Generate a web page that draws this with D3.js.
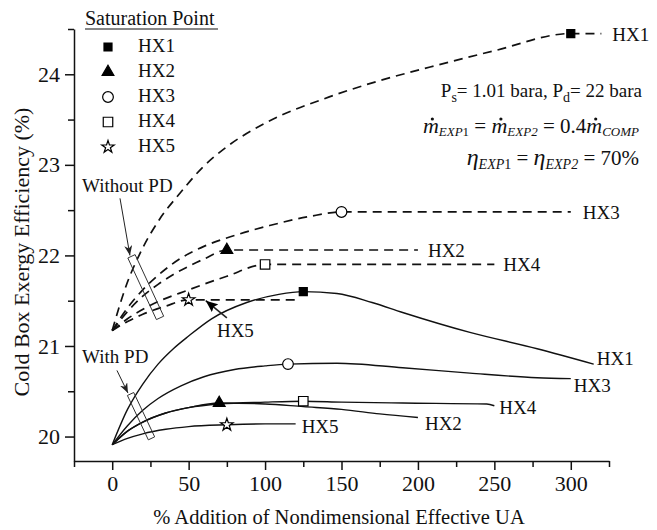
<!DOCTYPE html>
<html><head><meta charset="utf-8">
<script src="https://cdn.jsdelivr.net/npm/d3@7"></script>
<style>
body{margin:0;background:#fff;}
svg{display:block;}
svg text{font-family:"Liberation Serif","Times New Roman","DejaVu Serif",serif;}
</style></head><body>
<svg id="chart" width="657" height="530" font-family="Liberation Serif, Times New Roman, DejaVu Serif, serif"></svg>
<script>
// ---- data -----------------------------------------------------------
const seriesNames = ["HX1", "HX2", "HX3", "HX4", "HX5"];
const xTickValues = [0, 50, 100, 150, 200, 250, 300];
const yTickValues = [20, 21, 22, 23, 24];

// Without pressure drop (dashed): [% added UA, efficiency %]
const noPD_HX1 = [[0,21.17],[9,21.66],[19,22.05],[31,22.4],[44,22.68],[59,22.97],[75,23.2],[100,23.46],[142,23.75],[175,23.93],[208,24.08],[250,24.26],[300,24.45],[320,24.45]];
const noPD_HX2 = [[0,21.17],[10,21.38],[20,21.55],[30,21.68],[40,21.79],[50,21.88],[60,21.96],[75,22.06],[200,22.06]];
const noPD_HX3 = [[0,21.17],[10,21.42],[20,21.62],[30,21.78],[45,21.97],[60,22.1],[80,22.22],[103,22.33],[129,22.43],[150,22.48],[300,22.48]];
const noPD_HX4 = [[0,21.17],[10,21.3],[25,21.45],[50,21.62],[75,21.77],[100,21.9],[250,21.9]];
const noPD_HX5 = [[0,21.17],[10,21.27],[20,21.35],[35,21.44],[50,21.51],[120,21.51]];

// With pressure drop (solid)
const withPD_HX1 = [[0,19.91],[10,20.3],[20,20.58],[30,20.8],[40,20.97],[50,21.11],[65,21.3],[88,21.48],[109,21.57],[125,21.6],[147,21.58],[170,21.48],[190,21.37],[234,21.15],[278,20.97],[315,20.8]];
const withPD_HX2 = [[0,19.91],[10,20.06],[20,20.16],[35,20.26],[50,20.32],[70,20.37],[100,20.36],[125,20.33],[150,20.3],[175,20.25],[200,20.21]];
const withPD_HX3 = [[0,19.91],[10,20.12],[20,20.29],[30,20.42],[45,20.56],[60,20.66],[80,20.74],[100,20.78],[115,20.8],[147,20.81],[190,20.76],[234,20.7],[278,20.65],[300,20.64]];
const withPD_HX4 = [[0,19.91],[10,20.06],[20,20.16],[35,20.26],[50,20.32],[70,20.36],[100,20.38],[125,20.39],[150,20.38],[190,20.37],[245,20.36],[250,20.34]];
const withPD_HX5 = [[0,19.91],[10,19.98],[20,20.03],[35,20.08],[50,20.11],[75,20.13],[100,20.14],[120,20.14]];

// Saturation points, HX1..HX5
const satNoPD = [[300,24.45],[75,22.06],[150,22.48],[100,21.9],[50,21.51]];
const satWithPD = [[125,21.6],[70,20.37],[115,20.8],[125,20.39],[75,20.13]];

// ---- setup ----------------------------------------------------------
const SERIF = "Liberation Serif, Times New Roman, DejaVu Serif, serif";
const svg = d3.select("#chart");
const x = d3.scaleLinear().domain([-25, 325]).range([74, 609]);
const y = d3.scaleLinear().domain([19.73, 24.5]).range([461, 29]);
const FONT = 22;

const defs = svg.append("defs");
defs.append("marker").attr("id", "thinArrow")
  .attr("markerUnits", "userSpaceOnUse").attr("markerWidth", 12).attr("markerHeight", 10)
  .attr("refX", 10).attr("refY", 4).attr("orient", "auto")
  .append("path").attr("d", "M0,0 L10,4 L0,8 L3,4 Z").attr("fill", "#222");
defs.append("marker").attr("id", "boldArrow")
  .attr("markerUnits", "userSpaceOnUse").attr("markerWidth", 14).attr("markerHeight", 10)
  .attr("refX", 12).attr("refY", 5).attr("orient", "auto")
  .append("path").attr("d", "M0,0 L12,5 L0,10 L2,5 Z").attr("fill", "#000");

// ---- axes -----------------------------------------------------------
const minorX = d3.range(-25, 326, 25).filter(v => !xTickValues.includes(v));
const minorY = d3.range(20.5, 24.51, 0.5).filter(v => !yTickValues.includes(v));

svg.append("g").attr("transform", `translate(0,${y.range()[0]})`)
  .call(d3.axisBottom(x).tickValues(xTickValues).tickSize(9).tickSizeOuter(0).tickPadding(5).tickFormat(d3.format("d")));
svg.append("g").attr("transform", `translate(0,${y.range()[0]})`)
  .call(d3.axisBottom(x).tickValues(minorX).tickSize(6).tickSizeOuter(0).tickFormat(""))
  .select(".domain").remove();
svg.append("g").attr("transform", `translate(${x.range()[0]},0)`)
  .call(d3.axisLeft(y).tickValues(yTickValues).tickSize(9).tickSizeOuter(0).tickPadding(5).tickFormat(d3.format("d")));
svg.append("g").attr("transform", `translate(${x.range()[0]},0)`)
  .call(d3.axisLeft(y).tickValues(minorY).tickSize(6).tickSizeOuter(0).tickFormat(""))
  .select(".domain").remove();

svg.selectAll("g").attr("font-family", SERIF);
svg.selectAll(".tick text").attr("font-size", FONT).attr("fill", "#111");
svg.selectAll(".domain, .tick line").attr("stroke", "#111").attr("stroke-width", 1.5);

svg.append("text").attr("x", 339).attr("y", 524)
  .attr("text-anchor", "middle").attr("font-size", 20.5).attr("fill", "#111")
  .text("% Addition of Nondimensional Effective UA");
svg.append("text").attr("transform", "translate(29,252) rotate(-90)")
  .attr("text-anchor", "middle").attr("font-size", 22).attr("fill", "#111")
  .text("Cold Box Exergy Efficiency (%)");

// ---- curves ---------------------------------------------------------
const line = d3.line().x(d => x(d[0])).y(d => y(d[1])).curve(d3.curveMonotoneX);
const noPD = [noPD_HX1, noPD_HX2, noPD_HX3, noPD_HX4, noPD_HX5];
const withPD = [withPD_HX1, withPD_HX2, withPD_HX3, withPD_HX4, withPD_HX5];

svg.append("g").selectAll("path").data(noPD).join("path")
  .attr("d", line).attr("fill", "none").attr("stroke", "#111")
  .attr("stroke-width", 1.7).attr("stroke-dasharray", "9,6");
svg.append("g").selectAll("path").data(withPD).join("path")
  .attr("d", line).attr("fill", "none").attr("stroke", "#111")
  .attr("stroke-width", 1.4);

// ---- saturation markers ---------------------------------------------
const symbolSpec = [
  {type: d3.symbolSquare, size: 64, fill: "#000"},
  {type: d3.symbolTriangle, size: 60, fill: "#000"},
  {type: d3.symbolCircle, size: 90, fill: "#fff"},
  {type: d3.symbolSquare, size: 90, fill: "#fff"},
  {type: d3.symbolStar, size: 48, fill: "#fff"}
];
function drawMarkers(points) {
  svg.append("g").selectAll("path").data(points).join("path")
    .attr("transform", d => `translate(${x(d[0])},${y(d[1])})`)
    .attr("d", (d, i) => d3.symbol(symbolSpec[i].type, symbolSpec[i].size)())
    .attr("fill", (d, i) => symbolSpec[i].fill)
    .attr("stroke", "#000").attr("stroke-width", 1.2);
}
drawMarkers(satNoPD);
drawMarkers(satWithPD);

// ---- end labels -----------------------------------------------------
const endLabelNoPD = [[11, 7], [10, 7], [12, 7], [9, 7], null];
const endLabelWithPD = [[3, 1], [7, 12], [3, 13], [5, 8], [6, 9]];
function drawEndLabels(series, offsets) {
  series.forEach((s, i) => {
    if (!offsets[i]) return;
    const last = s[s.length - 1];
    svg.append("text").attr("x", x(last[0]) + offsets[i][0]).attr("y", y(last[1]) + offsets[i][1])
      .attr("font-family", SERIF).attr("font-size", 19).attr("fill", "#111").text(seriesNames[i]);
  });
}
drawEndLabels(noPD, endLabelNoPD);
drawEndLabels(withPD, endLabelWithPD);

// ---- legend ---------------------------------------------------------
const legend = svg.append("g").attr("font-family", SERIF);
legend.append("text").attr("x", 85).attr("y", 25).attr("font-size", 20).attr("fill", "#111").text("Saturation Point");
legend.append("line").attr("x1", 85).attr("x2", 218).attr("y1", 29).attr("y2", 29).attr("stroke", "#111").attr("stroke-width", 1.2);
seriesNames.forEach((n, i) => {
  const cy = 45 + i * 25;
  legend.append("path").attr("transform", `translate(108,${cy + 2})`)
    .attr("d", d3.symbol(symbolSpec[i].type, symbolSpec[i].size)())
    .attr("fill", symbolSpec[i].fill).attr("stroke", "#000").attr("stroke-width", 1.2);
  legend.append("text").attr("x", 138).attr("y", cy + 7).attr("font-size", 19).attr("fill", "#111").text(n);
});

// ---- annotations ----------------------------------------------------
function slantBox(p0, p1, w) {
  const a = [x(p0[0]), y(p0[1])], b = [x(p1[0]), y(p1[1])];
  const dx = b[0] - a[0], dy = b[1] - a[1], L = Math.hypot(dx, dy);
  const nx = -dy / L * w / 2, ny = dx / L * w / 2;
  const pts = [[a[0] + nx, a[1] + ny], [b[0] + nx, b[1] + ny], [b[0] - nx, b[1] - ny], [a[0] - nx, a[1] - ny]];
  svg.append("polygon").attr("points", pts.map(p => p.join(",")).join(" "))
    .attr("fill", "none").attr("stroke", "#333").attr("stroke-width", 1);
}
function arrow(p0, p1, id, sw) {
  svg.append("line").attr("x1", x(p0[0])).attr("y1", y(p0[1])).attr("x2", x(p1[0])).attr("y2", y(p1[1]))
    .attr("stroke", "#222").attr("stroke-width", sw).attr("marker-end", `url(#${id})`);
}
function note(p, str) {
  svg.append("text").attr("x", x(p[0])).attr("y", y(p[1])).attr("font-family", SERIF)
    .attr("font-size", 19).attr("fill", "#111").text(str);
}
note([-19.7, 22.7], "Without PD");
arrow([5.1, 22.63], [11.6, 22.0], "thinArrow", 1);
slantBox([12.6, 21.99], [31.3, 21.31], 8);

note([-19.7, 20.81], "With PD");
arrow([3.1, 20.73], [10.3, 20.48], "thinArrow", 1);
slantBox([12, 20.47], [25.7, 19.98], 7);

note([68.5, 21.1], "HX5");
arrow([75, 21.31], [61.2, 21.5], "boldArrow", 1.6);

// ---- operating-condition text ---------------------------------------
function richLine(parts, xRight, base) {
  const g = svg.append("g").attr("font-family", SERIF);
  const nodes = parts.map(p => {
    const t = g.append("text").attr("y", base + (p.dy || 0)).attr("font-size", p.s)
      .attr("font-style", p.it ? "italic" : "normal").attr("fill", "#111")
      .style("white-space", "pre").text(p.t);
    return {t, w: t.node().getComputedTextLength(), p};
  });
  const total = d3.sum(nodes, n => n.w);
  let cx = xRight - total;
  nodes.forEach(n => {
    n.t.attr("x", cx);
    if (n.p.dot) g.append("circle").attr("cx", cx + n.w / 2 + 1.5).attr("cy", base - 14).attr("r", 1.6).attr("fill", "#111");
    cx += n.w;
  });
}
richLine([
  {t: "P", s: 19}, {t: "s", s: 14, dy: 5}, {t: "= 1.01 bara, P", s: 19},
  {t: "d", s: 14, dy: 5}, {t: "= 22 bara", s: 19}
], 642, 97);
richLine([
  {t: "m", s: 22, it: true, dot: true}, {t: "EXP", s: 13, it: true, dy: 3}, {t: "1", s: 13, dy: 3},
  {t: " = ", s: 21}, {t: "m", s: 22, it: true, dot: true}, {t: "EXP2", s: 13, it: true, dy: 3},
  {t: " = 0.4", s: 21}, {t: "m", s: 22, it: true, dot: true}, {t: "COMP", s: 13, it: true, dy: 3}
], 639, 133);
richLine([
  {t: "η", s: 24, it: true}, {t: "EXP", s: 14, it: true, dy: 4}, {t: "1", s: 14, dy: 4},
  {t: " = ", s: 21}, {t: "η", s: 24, it: true}, {t: "EXP2", s: 14, it: true, dy: 4},
  {t: " = 70%", s: 21}
], 639, 165);
</script>
</body></html>
